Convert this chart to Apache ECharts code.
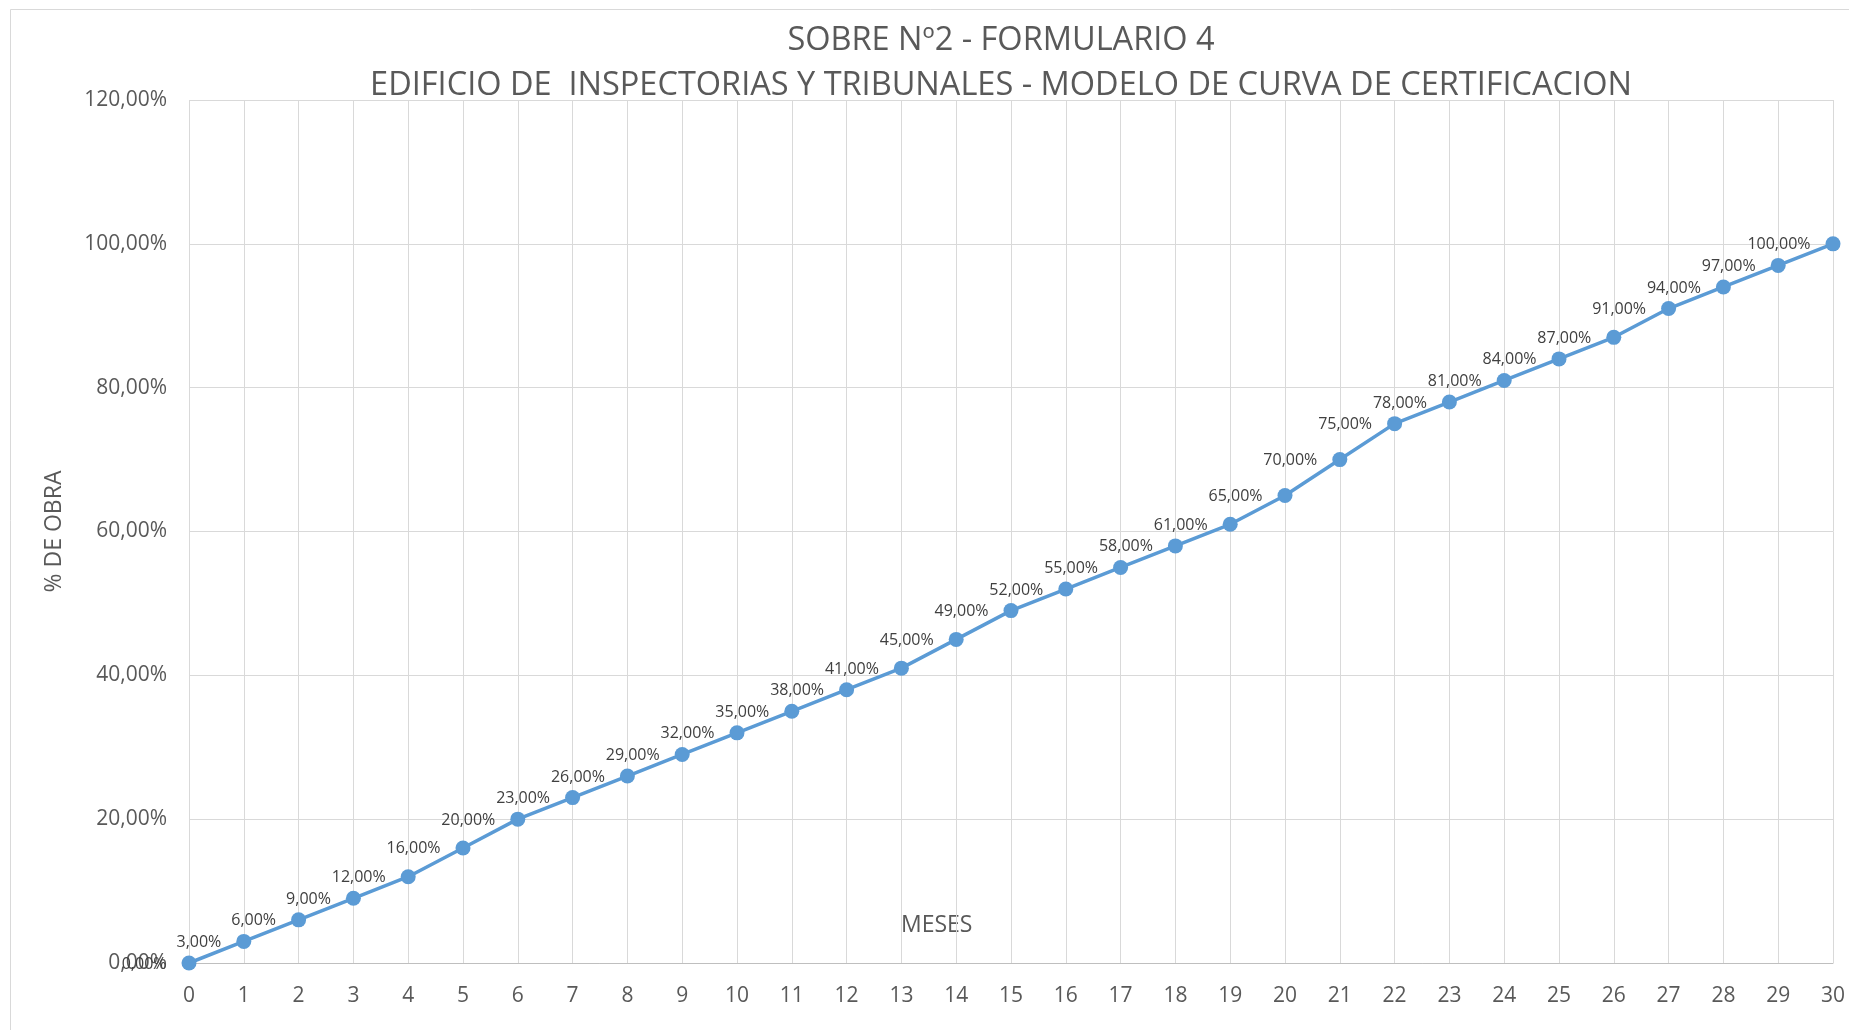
<!DOCTYPE html>
<html>
<head>
<meta charset="utf-8">
<script src="https://cdn.jsdelivr.net/npm/echarts@6/dist/echarts.min.js"></script>
<style>
html,body{margin:0;padding:0;background:#fff;}
#chart{width:1849px;height:1030px;}
</style>
</head>
<body>
<div id="chart"></div>
<script>
var titleLine1 = 'SOBRE Nº2 - FORMULARIO 4';
var titleLine2 = 'EDIFICIO DE  INSPECTORIAS Y TRIBUNALES - MODELO DE CURVA DE CERTIFICACION';
var months = ['0','1','2','3','4','5','6','7','8','9','10','11','12','13','14','15','16','17','18','19','20','21','22','23','24','25','26','27','28','29','30'];
var percentObra = [0,3,6,9,12,16,20,23,26,29,32,35,38,41,45,49,52,55,58,61,65,70,75,78,81,84,87,91,94,97,100];
var yTicks = {min: 0, max: 120, interval: 20};
var xAxisName = 'MESES';
var yAxisName = '% DE OBRA';

function fmt(v){ return Number(v).toFixed(2).replace('.', ',') + '%'; }

var FONT = "'Open Sans', 'Noto Sans', sans-serif";
var chart = echarts.init(document.getElementById('chart'));
chart.setOption({
  backgroundColor: '#ffffff',
  animation: false,
  textStyle: {fontFamily: FONT},
  title: [
    {text: titleLine1, left: 996, top: 19, textAlign: 'center',
     textStyle: {fontFamily: FONT, fontSize: 32.5, fontWeight: 'normal', color: '#595959'}},
    {text: titleLine2, left: 996, top: 64, textAlign: 'center',
     textStyle: {fontFamily: FONT, fontSize: 32.5, fontWeight: 'normal', color: '#595959'}}
  ],
  graphic: [
    {type: 'rect', shape: {x: 10.5, y: 9.5, width: 1900, height: 1100},
     style: {fill: 'none', stroke: '#D9D9D9', lineWidth: 1}, silent: true, z: -1},
    {type: 'text', left: 901, top: 914,
     style: {text: xAxisName, fontFamily: FONT, fontSize: 23, fill: '#595959'}}
  ],
  grid: {left: 189, right: 16, top: 100, bottom: 67, containLabel: false},
  xAxis: {
    type: 'category',
    data: months,
    boundaryGap: false,
    axisLine: {lineStyle: {color: '#BFBFBF', width: 1}},
    axisTick: {show: false},
    axisLabel: {color: '#595959', fontSize: 21, margin: 23, fontFamily: FONT},
    splitLine: {show: true, lineStyle: {color: '#D9D9D9', width: 1}}
  },
  yAxis: {
    type: 'value',
    min: yTicks.min, max: yTicks.max, interval: yTicks.interval,
    name: yAxisName,
    nameLocation: 'middle',
    nameRotate: 90,
    nameGap: 123,
    nameTextStyle: {color: '#595959', fontSize: 23, fontFamily: FONT},
    axisLine: {show: false},
    axisTick: {show: false},
    axisLabel: {color: '#595959', fontSize: 21, margin: 22, formatter: fmt, fontFamily: FONT},
    splitLine: {show: true, lineStyle: {color: '#D9D9D9', width: 1}}
  },
  series: [{
    type: 'line',
    data: percentObra,
    symbol: 'circle',
    symbolSize: 15,
    lineStyle: {color: '#5B9BD5', width: 3.5},
    itemStyle: {color: '#5B9BD5'},
    label: {
      show: true,
      position: 'left',
      distance: 15,
      offset: [0, 1],
      formatter: function(p){ return fmt(p.value); },
      color: '#404040',
      fontSize: 16,
      fontFamily: FONT
    }
  }]
});
</script>
</body>
</html>
